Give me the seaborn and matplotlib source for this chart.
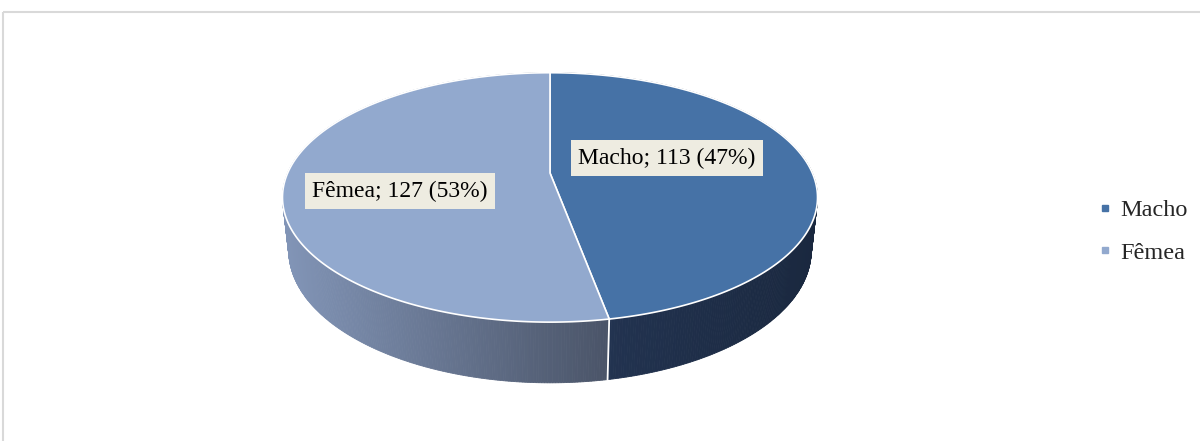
import numpy as np
import matplotlib
matplotlib.use("Agg")
import matplotlib.pyplot as plt
import seaborn as sns
from matplotlib.lines import Line2D
from matplotlib.patches import Rectangle
from matplotlib.colors import to_rgb

# ---- data ----
categories = ["Macho", "Fêmea"]
counts = [113, 127]
top_colors = ["#4672A6", "#92A9CE"]
wall_left = ["#223350", "#8295B7"]
wall_right = ["#1A283F", "#4A5468"]

sns.set_theme(style="white")
plt.rcParams['font.family'] = ['Liberation Serif', 'DejaVu Serif']

W, H = 1200, 441
fig = plt.figure(figsize=(12, 4.41), dpi=100)
ax = fig.add_axes([0, 0, 1, 1])
ax.set_xlim(0, W)
ax.set_ylim(H, 0)
ax.axis('off')

# frame
ax.add_patch(Rectangle((3, 12), 1400, 600, fill=False, ec="#d9d9d9", lw=1.5, zorder=0))

# ---- simple perspective camera for a 3D pie ----
cx, cy = 550, 173
f = 1191.0
elev = np.deg2rad(27.2)
s_, c_ = np.sin(elev), np.cos(elev)
d = 4.54
h = 0.23


def proj(theta, z, r=1.0):
    X = r * np.sin(theta)
    Y = r * np.cos(theta)
    depth = d + Y * c_ - z * s_
    return cx + f * X / depth, cy - f * (Y * s_ + z * c_) / depth


total = float(sum(counts))
fracs = np.array(counts) / total
bounds = np.concatenate([[0], np.cumsum(fracs)]) * 2 * np.pi

# walls: gather segments, draw far to near
segments = []
for i in range(len(counts)):
    t0, t1 = bounds[i], bounds[i + 1]
    n = max(int((t1 - t0) / (2 * np.pi) * 720), 4)
    ts = np.linspace(t0, t1, n + 1)
    xs_vis = [proj(t, 0)[0] for t in ts if np.cos(t) < 0.25]
    if not xs_vis:
        xs_vis = [proj(t, 0)[0] for t in ts]
    xmin, xmax = min(xs_vis), max(xs_vis)
    cl, cr = np.array(to_rgb(wall_left[i])), np.array(to_rgb(wall_right[i]))
    for a, b in zip(ts[:-1], ts[1:]):
        xa, ya = proj(a, 0)
        xb, yb = proj(b, 0)
        xc, yc = proj(b, -h)
        xd, yd = proj(a, -h)
        xm = (xa + xb) / 2
        tt = np.clip((xm - xmin) / (xmax - xmin + 1e-9), 0, 1)
        col = cl * (1 - tt) + cr * tt
        segments.append((np.cos((a + b) / 2), [xa, xb, xc, xd], [ya, yb, yc, yd], col))

segments.sort(key=lambda q: -q[0])
for _, xs, ys, col in segments:
    ax.fill(xs, ys, facecolor=col, edgecolor=col, lw=0.6, zorder=1)

# vertical boundary lines on front walls
for t in bounds[:-1]:
    if np.cos(t) < 0:
        x0, y0 = proj(t, 0)
        x1, y1 = proj(t, -h)
        ax.plot([x0, x1], [y0, y1], color="white", lw=1.3, zorder=2)

# top faces
for i in range(len(counts)):
    ts = np.linspace(bounds[i], bounds[i + 1], 400)
    px, py = zip(*[proj(t, 0) for t in ts])
    ccx, ccy = proj(0, 0, r=0.0)
    xs = [ccx] + list(px)
    ys = [ccy] + list(py)
    ax.fill(xs, ys, facecolor=top_colors[i], edgecolor="white", lw=1.2, zorder=3)

# data labels
label_pos = [(667, 158), (400, 191)]
for i, cat in enumerate(categories):
    pct = counts[i] / total * 100
    ax.text(label_pos[i][0], label_pos[i][1], f"{cat}; {counts[i]} ({pct:.0f}%)",
            ha="center", va="center", fontsize=17, color="black", zorder=5,
            bbox=dict(boxstyle="square,pad=0.3", fc="#EEECE1", ec="none"))

# legend
handles = [Line2D([], [], marker="s", ls="", color=top_colors[i], markersize=5)
           for i in range(len(categories))]
ax.legend(handles, categories, loc="center left", bbox_to_anchor=(1086 / W, 1 - 231.5 / H),
          frameon=False, fontsize=17.5, handletextpad=0.2, labelspacing=0.85,
          handlelength=0.8, borderaxespad=0)

fig.savefig("out.png", dpi=100)
